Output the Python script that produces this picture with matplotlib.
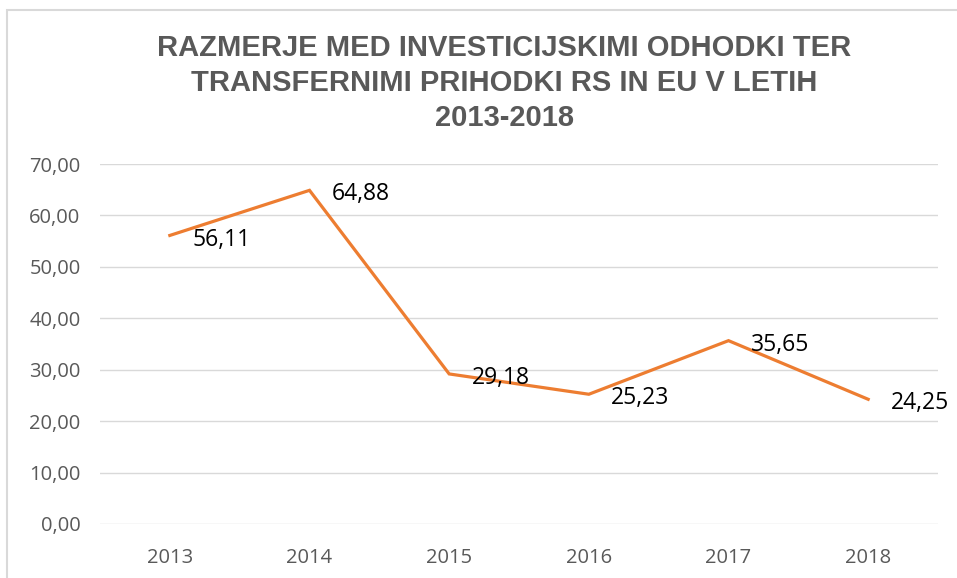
import matplotlib.pyplot as plt
from matplotlib.patches import Rectangle

years = ['2013', '2014', '2015', '2016', '2017', '2018']
values = [56.11, 64.88, 29.18, 25.23, 35.65, 24.25]
labels = ['56,11', '64,88', '29,18', '25,23', '35,65', '24,25']
yticks = [0, 10, 20, 30, 40, 50, 60, 70]

plt.rcParams['font.family'] = ['Liberation Sans', 'DejaVu Sans']

fig = plt.figure(figsize=(9.57, 5.78), dpi=100)
fig.patches.append(Rectangle((7 / 957, -0.1), 1.2, 1.1 - 10 / 578,
                             transform=fig.transFigure, fill=False,
                             edgecolor='#d9d9d9', linewidth=1.5))

ax = fig.add_axes([100 / 957, 54 / 578, 838 / 957, 360 / 578])
x = range(len(years))
ax.plot(x, values, color='#ed7d31', linewidth=2.3, solid_joinstyle='miter')
for i, (v, t) in enumerate(zip(values, labels)):
    ax.annotate(t, (i, v), xytext=(16, -3), textcoords='offset points',
                ha='left', va='center', fontsize=16.5, color='black',
                family=['Open Sans', 'DejaVu Sans'])

ax.set_xlim(-0.5, len(years) - 0.5)
ax.set_ylim(0, 70)
ax.set_yticks(yticks)
ax.set_yticklabels([f'{t:.2f}'.replace('.', ',') for t in yticks])
ax.set_xticks(list(x))
ax.set_xticklabels(years)
ax.grid(axis='y', color='#d9d9d9', linewidth=1)
ax.set_axisbelow(True)
for s in ax.spines.values():
    s.set_visible(False)
ax.tick_params(length=0, labelsize=14.5, labelcolor='#595959')
ax.tick_params(axis='y', pad=14)
ax.tick_params(axis='x', pad=17)
for lab in ax.get_xticklabels() + ax.get_yticklabels():
    lab.set_family(['Open Sans', 'DejaVu Sans'])

fig.text(504 / 957, 1 - 83 / 578,
         'RAZMERJE MED INVESTICIJSKIMI ODHODKI TER\nTRANSFERNIMI PRIHODKI RS IN EU V LETIH\n2013-2018',
         ha='center', va='center', fontsize=21, fontweight='bold',
         color='#595959', linespacing=1.32)

fig.savefig('out.png', dpi=100)
